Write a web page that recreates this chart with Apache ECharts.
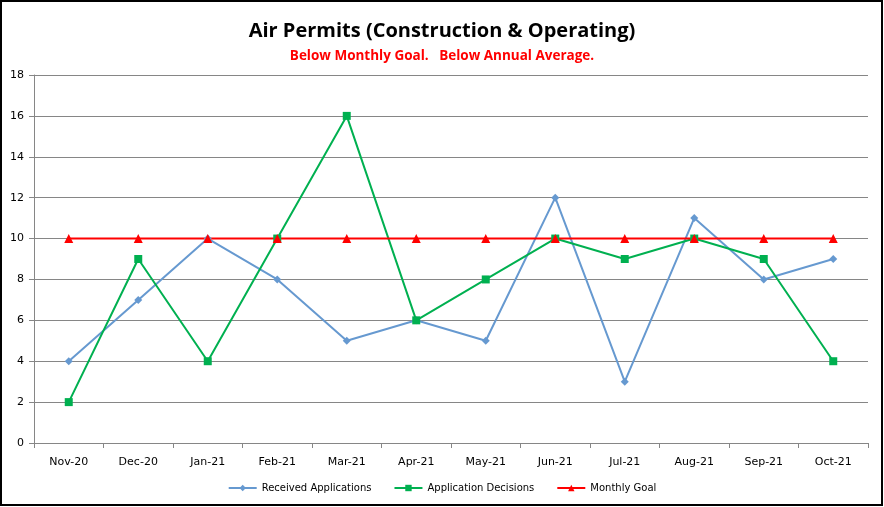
<!DOCTYPE html>
<html><head><meta charset="utf-8">
<script src="https://cdn.jsdelivr.net/npm/echarts@6/dist/echarts.min.js"></script>
<style>html,body{margin:0;padding:0;background:#fff}#w{position:relative;width:884px;height:507px}#c{width:884px;height:507px}
#b{position:absolute;left:0;top:0;width:883px;height:506px;box-sizing:border-box;border:2px solid #000;pointer-events:none}</style>
</head><body><div id="w"><div id="c"></div><div id="b"></div></div>
<script>
const categories = ['Nov-20','Dec-20','Jan-21','Feb-21','Mar-21','Apr-21','May-21','Jun-21','Jul-21','Aug-21','Sep-21','Oct-21'];
const received = [4,7,10,8,5,6,5,12,3,11,8,9];
const decisions = [2,9,4,10,16,6,8,10,9,10,9,4];
const monthlyGoal = [10,10,10,10,10,10,10,10,10,10,10,10];
const yTicks = {min:0, max:18, interval:2};

const chart = echarts.init(document.getElementById('c'));
const font = 'Tahoma, "DejaVu Sans", sans-serif';
chart.setOption({
  animation:false,
  backgroundColor:'#fff',
  title:{text:'Air Permits (Construction & Operating)',subtext:'Below Monthly Goal.   Below Annual Average.',
    left:'center',top:16,itemGap:8,
    textStyle:{fontFamily:'"Open Sans", sans-serif',fontWeight:'bold',fontSize:20,color:'#000'},
    subtextStyle:{fontFamily:'"Open Sans", sans-serif',fontWeight:'bold',fontSize:13.5,color:'#FF0000'}},
  legend:{bottom:9,left:'center',itemWidth:28,itemHeight:8,itemGap:22,
    textStyle:{fontFamily:font,fontSize:10,color:'#000'},
    data:['Received Applications','Application Decisions','Monthly Goal']},
  grid:{left:34,right:16,top:75,bottom:64,containLabel:false},
  xAxis:{type:'category',data:categories,boundaryGap:true,
    axisLine:{lineStyle:{color:'#868686'}},
    axisTick:{show:true,length:5,lineStyle:{color:'#868686'}},
    axisLabel:{fontFamily:font,fontSize:11,color:'#000',margin:14}},
  yAxis:{type:'value',min:yTicks.min,max:yTicks.max,interval:yTicks.interval,
    axisLine:{show:true,lineStyle:{color:'#868686'}},
    axisTick:{show:true,length:5,lineStyle:{color:'#868686'}},
    splitLine:{lineStyle:{color:'#868686',width:1}},
    axisLabel:{fontFamily:font,fontSize:11,color:'#000',margin:10}},
  series:[
    {name:'Received Applications',type:'line',data:received,symbol:'diamond',symbolSize:8,
      lineStyle:{color:'#6699D0',width:2},itemStyle:{color:'#6699D0'}},
    {name:'Application Decisions',type:'line',data:decisions,symbol:'rect',symbolSize:8,
      lineStyle:{color:'#00B050',width:2},itemStyle:{color:'#00B050'}},
    {name:'Monthly Goal',type:'line',data:monthlyGoal,symbol:'triangle',symbolSize:9,
      lineStyle:{color:'#FF0000',width:2},itemStyle:{color:'#FF0000'}}
  ]
});
</script></body></html>
